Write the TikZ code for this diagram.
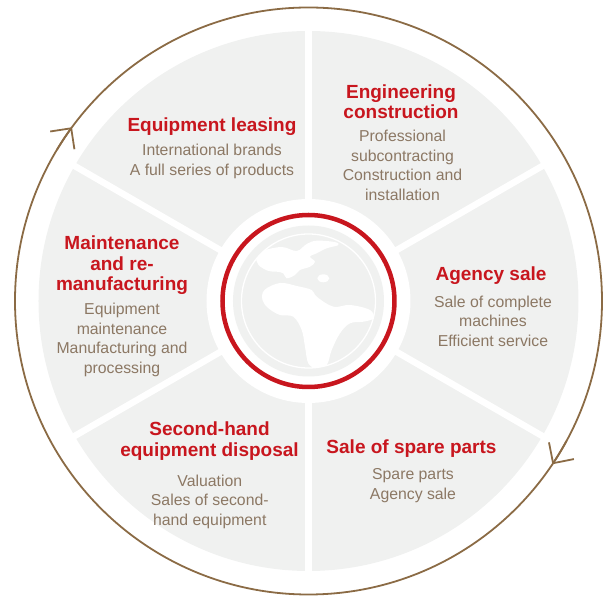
\documentclass[tikz,border=0pt]{standalone}
\usepackage{fontspec}
\setmainfont{Liberation Sans}
\usetikzlibrary{arrows.meta}

\definecolor{titlered}{HTML}{C8161E}
\definecolor{bodybrown}{HTML}{8C7864}
\definecolor{ringbrown}{HTML}{8B6B45}
\definecolor{panelgrey}{HTML}{F0F1F0}

\begin{document}
\begin{tikzpicture}[
		x=1pt, y=1pt,
		sector-title/.style={align=center, inner sep=0pt, text=titlered,
		font=\fontsize{19}{20.5}\selectfont\bfseries},
		sector-body/.style={align=center, inner sep=0pt, text=bodybrown,
		font=\fontsize{15.8}{19.5}\selectfont},
		separator/.style={draw=white, line width=6.5pt},
		cycle-ring/.style={draw=ringbrown, line width=1.8pt},
		cycle-tip/.style={cycle-ring, -{Straight Barb[length=15pt,width=30pt]}},
		]

		\def\rpanel{270pt}
		\def\rgap{102pt}
		\def\rred{86pt}
		\def\rglobe{75.5pt}
		\def\rline{67pt}
		\def\rcycle{293.5pt}

		\useasboundingbox (-308.5,-295) rectangle (294.5,301);

		% panels
		\fill[panelgrey] (0,0) circle (\rpanel);
		\fill[white] (0,0) circle (\rgap);
		\foreach \a in {30,90,...,330}
		\draw[separator] (\a:\rgap-5pt) -- (\a:\rpanel+5pt);

		% globe
		\fill[panelgrey] (0,0) circle (\rglobe);
		\draw[white, line width=1.3pt] (0,0) circle (\rline);
		\begin{scope}
			\clip (0,0) circle (\rline);
			\fill[white] plot[smooth cycle, tension=0.6] coordinates {
					(-46,50) (-26.8,54) (-11.8,50) (-1.8,57) (8.2,60.3)
					(26,59) (30,56) (18.2,52.7) (8.2,47.7) (1.5,44.3)
					(6.5,39.3) (1.5,34.3) (-8.5,31) (-13.5,26) (-21.8,22.7)
					(-25.2,27.7) (-31.8,29.3) (-40,30) (-50,36) (-52,44)};
			\fill[white] plot[smooth cycle, tension=0.6] coordinates {
					(-44,11) (-28.5,18) (-11.8,15) (3.2,11) (8.2,4.3)
					(24.8,-5.7) (41.5,-4) (61.5,-9) (64.8,-17.3) (54.8,-20.7)
					(41.5,-22.3) (31.5,-32.3) (23.2,-49) (18.2,-64) (8.2,-67.3)
					(-0.2,-62.3) (-3.5,-45.7) (-6.8,-29) (-15.2,-15.7) (-28.5,-14)
					(-40,-7.3) (-46,1)};
			\fill[white] (14.8,22.7) ellipse (6pt and 4pt);
		\end{scope}
		\draw[titlered, line width=4.5pt] (0,0) circle (\rred);

		% cycle
		\draw[cycle-ring] (0,0) circle (\rcycle);
		\draw[cycle-tip] (149:\rcycle) arc (149:143.7:\rcycle);
		\draw[cycle-tip] (-28.5:\rcycle) arc (-28.5:-33.8:\rcycle);

		% sectors
		\node[sector-title] (lease-title) at (-96.5,174) {Equipment leasing};
		\node[sector-body] (lease-body) at (-96.5,139.5)
		{International brands\\A full series of products};

		\node[sector-title] (build-title) at (92.5,199.5) {Engineering\\construction};
		\node[sector-body] (build-body) at (94,135.75)
		{Professional\\subcontracting\\Construction and\\installation};

		\node[sector-title] (agency-title) at (182.5,25) {Agency sale};
		\node[sector-body] (agency-body) at (184.5,-20)
		{Sale of complete\\machines\\Efficient service};

		\node[sector-title] (parts-title) at (103,-148) {Sale of spare parts};
		\node[sector-body] (parts-body) at (104.5,-184.5)
		{Spare parts\\Agency sale};

		\node[sector-title] (used-title) at (-99,-140) {Second-hand\\equipment disposal};
		\node[sector-body] (used-body) at (-98.7,-200.7)
		{Valuation\\Sales of second-\\hand equipment};

		\node[sector-title] (repair-title) at (-186.5,35.7) {Maintenance\\and re-\\manufacturing};
		\node[sector-body] (repair-body) at (-186.5,-39)
		{Equipment\\maintenance\\Manufacturing and\\processing};

	\end{tikzpicture}
\end{document}
